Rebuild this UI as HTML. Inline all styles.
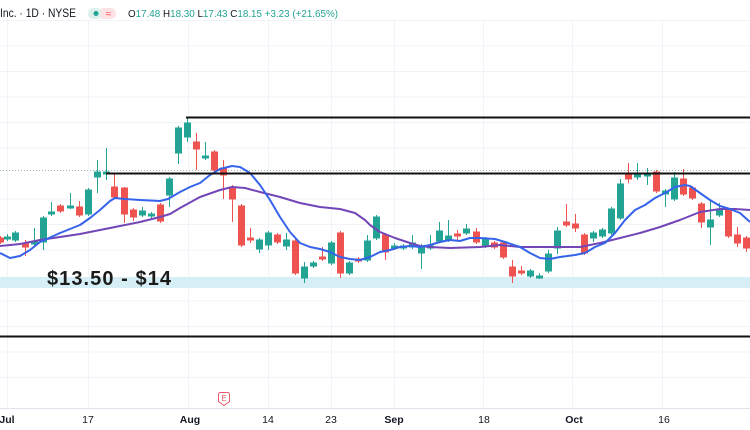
<!DOCTYPE html>
<html><head><meta charset="utf-8"><style>
html,body{margin:0;padding:0;background:#fff;width:750px;height:430px;overflow:hidden}
svg{display:block}
</style></head><body>
<svg width="750" height="430" viewBox="0 0 750 430" xmlns="http://www.w3.org/2000/svg" font-family="'Liberation Sans', sans-serif">
<rect width="750" height="430" fill="#fff"/>
<path fill="none" stroke="#f0f3f8" stroke-width="1" d="M0 20.5H750M0 46H750M0 71.5H750M0 97H750M0 122.5H750M0 148H750M0 199H750M0 224.5H750M0 250H750M0 301H750M0 326.5H750M0 352H750M0 377.5H750M7.5 20V408M88.5 20V408M188.5 20V408M268.5 20V408M331.5 20V408M394.5 20V408M483.5 20V408M572.5 20V408M662.5 20V408"/>
<path d="M0 408.5H750" stroke="#e0e3eb" stroke-width="1"/>
<rect x="0" y="277" width="750" height="11" fill="#d6eff6"/>
<path d="M0 170.5H750" stroke="#9fb7b3" stroke-width="1" stroke-dasharray="1 2"/>
<path fill="none" stroke="#ef5350" stroke-width="1" d="M0.5 236V244M25.5 240V256M60.5 204V213M79.5 201V217M114.5 173V198M124.5 187V223M133.5 208V221M160.5 203V223M196.5 133V170M214.5 150V172M223.5 160V199M232.5 185V222M241.5 204V247M250.5 228V243M277.5 233V244M295.5 239V275M322.5 247V261M340.5 231V278M358.5 257V263M385.5 233V260M457.5 230V240M476.5 228V244M494.5 241V249M503.5 241V259M512.5 260V283M521.5 266V275M566.5 204V227M575.5 214V232M584.5 233V255M628.5 163V183M656.5 170V193M683.5 169V196M692.5 186V200M701.5 202V228M728.5 208V238M737.5 227V247M746.5 236V252"/>
<path fill="#ef5350" d="M-3 237.5h7v5h-7zM22 242.5h7v5h-7zM57 205.5h7v6h-7zM76 206.5h7v9h-7zM111 186.5h7v11h-7zM121 187.5h7v27h-7zM130 209.5h7v8h-7zM157 204.5h7v17h-7zM193 141.5h7v8h-7zM211 151.5h7v19h-7zM220 167.5h7v8h-7zM229 186.5h7v13h-7zM238 205.5h7v40h-7zM247 237.5h7v3h-7zM274 234.5h7v8h-7zM292 240.5h7v33h-7zM319 256.5h7v3h-7zM337 232.5h7v41h-7zM355 258.5h7v3h-7zM382 234.5h7v18h-7zM454 233.5h7v3h-7zM473 231.5h7v11h-7zM491 242.5h7v5h-7zM500 242.5h7v15h-7zM509 266.5h7v10h-7zM518 270.5h7v3h-7zM563 221.5h7v4h-7zM572 223.5h7v5h-7zM581 234.5h7v19h-7zM625 172.5h7v7h-7zM653 171.5h7v20h-7zM680 178.5h7v16h-7zM689 187.5h7v11h-7zM698 203.5h7v19h-7zM725 209.5h7v27h-7zM734 234.5h7v9h-7zM743 237.5h7v11h-7z"/>
<path fill="none" stroke="#22a394" stroke-width="1" d="M7.5 234V241M15.5 231V242M34.5 228V246M43.5 216V250M51.5 202V216M70.5 193V209M88.5 188V216M97.5 160V193M106.5 148V180M142.5 207V217M151.5 212V218M169.5 177V207M178.5 126V164M187.5 118V142M205.5 142V160M259.5 238V253M268.5 231V250M286.5 233V250M304.5 262V283M313.5 261V268M331.5 241V265M349.5 261V275M367.5 235V262M376.5 215V240M394.5 243V250M403.5 244V250M412.5 235V249M421.5 244V269M430.5 235V250M439.5 222V243M448.5 220V242M466.5 224V235M485.5 237V248M530.5 269V278M539.5 273V279M548.5 250V273M557.5 227V254M593.5 231V242M602.5 228V238M611.5 207V235M620.5 179V220M637.5 163V180M647.5 168V185M665.5 189V207M674.5 172V201M710.5 201V245M719.5 203V217"/>
<path fill="#22a394" d="M4 236.5h7v3h-7zM12 232.5h7v8h-7zM31 241.5h7v3h-7zM40 217.5h7v25h-7zM48 211.5h7v3h-7zM67 205.5h7v3h-7zM85 189.5h7v25h-7zM94 171.5h7v6h-7zM103 171.5h7v3h-7zM139 210.5h7v5h-7zM148 213.5h7v3h-7zM166 178.5h7v17h-7zM175 127.5h7v26h-7zM184 122.5h7v15h-7zM202 155.5h7v3h-7zM256 239.5h7v10h-7zM265 232.5h7v13h-7zM283 239.5h7v7h-7zM301 266.5h7v12h-7zM310 262.5h7v4h-7zM328 242.5h7v21h-7zM346 262.5h7v11h-7zM364 240.5h7v20h-7zM373 216.5h7v22h-7zM391 245.5h7v3h-7zM400 245.5h7v3h-7zM409 242.5h7v5h-7zM418 245.5h7v8h-7zM427 245.5h7v3h-7zM436 230.5h7v11h-7zM445 235.5h7v5h-7zM463 228.5h7v5h-7zM482 238.5h7v8h-7zM527 270.5h7v6h-7zM536 275.5h7v3h-7zM545 253.5h7v18h-7zM554 230.5h7v18h-7zM590 232.5h7v6h-7zM599 229.5h7v7h-7zM608 208.5h7v25h-7zM617 183.5h7v35h-7zM634 174.5h7v3h-7zM644 173.5h7v3h-7zM662 190.5h7v4h-7zM671 177.5h7v22h-7zM707 219.5h7v8h-7zM716 208.5h7v7h-7z"/>
<polyline fill="none" stroke="#7346b8" stroke-width="2" stroke-linejoin="round" points="0,246 20,244 40,240 60,237 80,234 100,230 120,226 140,222 160,217 170,214 180,208 200,197 220,190 232,187 245,188 260,192 280,197 300,203 320,207 340,209 355,213 365,220 370,225 380,232 395,238 410,243 420,246 430,247 450,248 480,247 500,245 520,247 550,247 580,247 600,243 620,238 640,233 660,227 680,220 700,212 720,209 735,209 750,210"/>
<polyline fill="none" stroke="#3563e9" stroke-width="2" stroke-linejoin="round" points="0,253 10,258 20,256 30,250 40,242 60,233 80,225 90,218 100,210 110,201 115,198 125,199 140,200 160,201 168,199 180,192 190,187 200,183 210,175 220,169 232,166 240,167 250,173 260,185 270,200 280,217 290,232 300,243 310,247 320,249 330,252 340,257 350,259 360,260 370,257 380,252 390,250 400,247 410,246 420,247 430,245 440,242 450,240 460,241 470,238 480,238 495,239 505,242 520,247 530,253 540,258 550,259 560,257 575,255 585,253 595,247 605,243 615,233 625,220 635,210 645,205 655,198 665,193 675,187 685,185 690,186 700,193 710,200 720,206 730,209 740,213 750,222"/>
<path fill="none" stroke="#111" stroke-width="2" d="M186 117.5H750M106 173.5H750M0 336.5H750"/>
<text x="47" y="285" font-size="20" font-weight="bold" fill="#1b1b1b" textLength="124" lengthAdjust="spacing">$13.50 - $14</text>
<text x="0" y="17" font-size="11.5" fill="#131722" textLength="76" lengthAdjust="spacingAndGlyphs">Inc. · 1D · NYSE</text>
<rect x="88" y="8" width="14" height="11" rx="5" fill="#dcf1ec"/>
<rect x="101" y="8" width="15" height="11" rx="5" fill="#fde3e6"/>
<rect x="101" y="8" width="4" height="11" fill="#fde3e6"/>
<circle cx="96" cy="13.5" r="2.5" fill="#22a394"/>
<text x="108.5" y="17" font-size="10" fill="#ef5350" text-anchor="middle">≈</text>
<text x="128" y="17" font-size="10" fill="#22a394" textLength="210" lengthAdjust="spacingAndGlyphs"><tspan fill="#131722">O</tspan>17.48 <tspan fill="#131722">H</tspan>18.30 <tspan fill="#131722">L</tspan>17.43 <tspan fill="#131722">C</tspan>18.15 +3.23 (+21.65%)</text>
<path d="M218.5,394.5 a2,2 0 0 1 2,-2 h7 a2,2 0 0 1 2,2 v7 l-5.5,4 l-5.5,-4 z" fill="#fff" stroke="#f05a6a" stroke-width="1"/>
<text x="224" y="401" font-size="8" fill="#f05a6a" text-anchor="middle">E</text>
<g font-size="10.5" fill="#131722" text-anchor="middle">
<text x="7" y="423" font-weight="bold">Jul</text>
<text x="88" y="423">17</text>
<text x="190" y="423" font-weight="bold">Aug</text>
<text x="268" y="423">14</text>
<text x="331" y="423">23</text>
<text x="394" y="423" font-weight="bold">Sep</text>
<text x="484" y="423">18</text>
<text x="574" y="423" font-weight="bold">Oct</text>
<text x="664" y="423">16</text>
</g>
</svg>
</body></html>
